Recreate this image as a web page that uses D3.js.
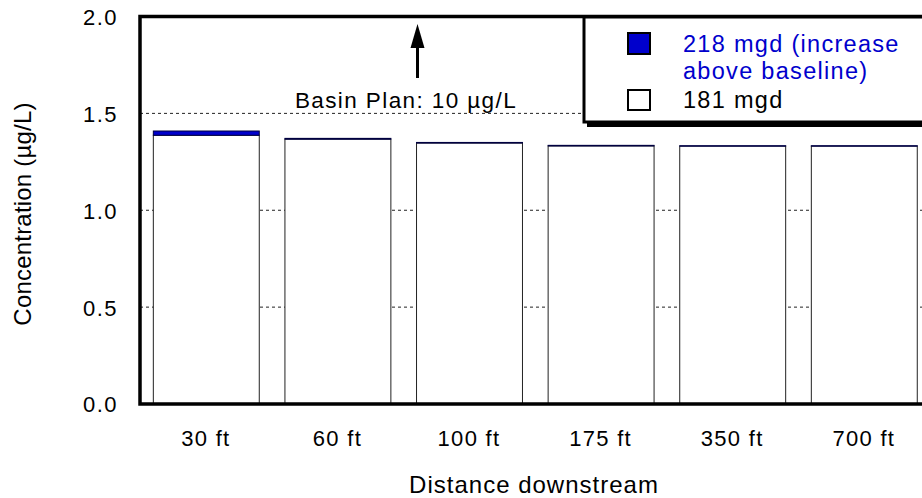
<!DOCTYPE html>
<html><head><meta charset="utf-8">
<script src="https://cdn.jsdelivr.net/npm/d3@7"></script>
<style>
html,body{margin:0;padding:0;background:#fff;}
svg text{font-family:"Liberation Sans",Arial,sans-serif;fill:#000;}
</style></head>
<body><svg id="c" width="922" height="498"></svg>
<script>
const categories = ["30 ft","60 ft","100 ft","175 ft","350 ft","700 ft"];
const baseline181 = [1.387,1.367,1.347,1.332,1.331,1.331];
const increase218 = [0.022,0.004,0.003,0.003,0.002,0.002];
const yTicks = [0,0.5,1.0,1.5,2.0];
const gridValues = [0.5,1.0,1.5];
const basinPlanLabel = "Basin Plan: 10 \u00b5g/L";
const legendItems = ["218 mgd (increase", "above baseline)", "181 mgd"];

const svg = d3.select("#c");
const L = 140, R = 929.6, T = 16.5, B = 404;
const x = d3.scaleBand().domain(categories).range([L, R]).paddingInner(0.195).paddingOuter(0.0975);
const y = d3.scaleLinear().domain([0, 2]).range([B, T]);

// gridlines
svg.append("g").selectAll("line").data(gridValues).join("line")
  .attr("x1", L).attr("x2", R).attr("y1", d => y(d)).attr("y2", d => y(d))
  .attr("stroke", "#222").attr("stroke-width", 1).attr("stroke-dasharray", "3,3");

// bars
const data = categories.map((c, i) => ({c, b: baseline181[i], inc: increase218[i]}));
const g = svg.append("g");
g.selectAll("rect.base").data(data).join("rect").attr("class","base")
  .attr("x", d => x(d.c) + 0.5).attr("width", x.bandwidth())
  .attr("y", d => y(d.b)).attr("height", d => y(0) - y(d.b))
  .attr("fill", "#fff").attr("stroke", "#222").attr("stroke-width", 1);
g.selectAll("rect.inc").data(data).join("rect").attr("class","inc")
  .attr("x", d => x(d.c) + 0.5).attr("width", x.bandwidth())
  .attr("y", d => y(d.b + d.inc)).attr("height", d => y(d.b) - y(d.b + d.inc))
  .attr("fill", "#0000cc").attr("stroke", "#000040").attr("stroke-width", 1);

// frame
svg.append("path")
  .attr("d", `M${R + 2},${T} L${L},${T} L${L},${B} L${R + 2},${B}`)
  .attr("fill", "none").attr("stroke", "#000").attr("stroke-width", 3.5);

// y axis labels
const yAxis = d3.axisLeft(y).tickValues(yTicks).tickFormat(d3.format(".1f")).tickSize(0).tickPadding(22);
const ya = svg.append("g").attr("transform", `translate(${L},0)`).call(yAxis);
ya.select(".domain").remove();
ya.selectAll("text").attr("font-size", 22).attr("letter-spacing", 1.5)
  .attr("font-family", "Liberation Sans, Arial, sans-serif").attr("fill", "#000").attr("dy", "0.36em");

// x axis labels
const xAxis = d3.axisBottom(x).tickSize(0).tickPadding(26);
const xa = svg.append("g").attr("transform", `translate(0,${B})`).call(xAxis);
xa.select(".domain").remove();
xa.selectAll("text").attr("font-size", 22).attr("letter-spacing", 1.3)
  .attr("font-family", "Liberation Sans, Arial, sans-serif").attr("fill", "#000");

// axis titles
svg.append("text").attr("x", 534).attr("y", 493).attr("text-anchor", "middle")
  .attr("font-size", 24).attr("letter-spacing", 1).text("Distance downstream");
svg.append("text").attr("transform", "translate(31,214) rotate(-90)").attr("text-anchor", "middle")
  .attr("font-size", 24).attr("letter-spacing", 0.2).text("Concentration (\u00b5g/L)");

// basin plan annotation
svg.append("text").attr("x", 406).attr("y", 108).attr("text-anchor", "middle")
  .attr("font-size", 22.5).attr("letter-spacing", 1.4).text(basinPlanLabel);
const ax = 417.5;
svg.append("line").attr("x1", ax).attr("x2", ax).attr("y1", 78).attr("y2", 40)
  .attr("stroke", "#000").attr("stroke-width", 3);
svg.append("path").attr("d", `M${ax},24 L${ax - 7},48 L${ax + 7},48 Z`).attr("fill", "#000");

// legend
const lx = 584, ly = 17, lw = 360, lh = 105;
svg.append("rect").attr("x", lx + 3).attr("y", ly + 5).attr("width", lw).attr("height", lh).attr("fill", "#000");
svg.append("rect").attr("x", lx).attr("y", ly).attr("width", lw).attr("height", lh)
  .attr("fill", "#fff").attr("stroke", "#000").attr("stroke-width", 3);
svg.append("rect").attr("x", 628).attr("y", 33).attr("width", 22).attr("height", 21)
  .attr("fill", "#0000cc").attr("stroke", "#000").attr("stroke-width", 2);
svg.append("rect").attr("x", 628).attr("y", 90).attr("width", 22).attr("height", 20)
  .attr("fill", "#fff").attr("stroke", "#000").attr("stroke-width", 2);
const lt = svg.append("g").attr("font-size", 23.5).attr("letter-spacing", 1.3);
lt.append("text").attr("x", 683).attr("y", 52).style("fill", "#0000cc").text(legendItems[0]);
lt.append("text").attr("x", 683).attr("y", 79).style("fill", "#0000cc").text(legendItems[1]);
lt.append("text").attr("x", 683).attr("y", 108).text(legendItems[2]);
</script></body></html>
